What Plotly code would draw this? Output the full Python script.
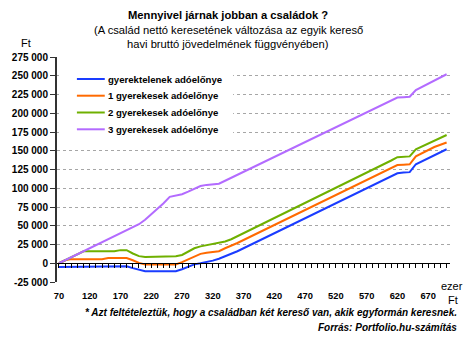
import plotly.graph_objects as go

# Gross monthly income of one earner (thousand Ft)
income = list(range(70, 710, 10))

# Net family income gain (Ft) by number of children
childless = [
    -5000, -5000, -5000, -5000, -5000, -5000, -4000, -4000, -4000, -4000,
    -4000, -4000, -6500, -9000, -10500, -10500, -10500, -10500, -10500, -10500,
    -8000, -4500, -1500, 0, 1500, 3500, 6000, 9000, 12000, 16000,
    20000, 24000, 28000, 32000, 36000, 40000, 44000, 48000, 52000, 56000,
    60000, 64000, 68000, 72000, 76000, 80000, 84000, 88000, 92000, 96000,
    100000, 104000, 108000, 112000, 116000, 120000, 121000, 121500, 132000, 136000,
    140000, 144000, 148000, 152000,
]
one_child = [
    0, 4000, 5500, 5500, 5500, 5500, 5500, 5500, 7000, 7000,
    7000, 7000, 4000, 500, -1500, -1500, -1500, -1500, -1500, -1500,
    1500, 5000, 9500, 12500, 14000, 15000, 16000, 20000, 23000, 27000,
    31000, 35000, 39000, 43000, 47000, 51000, 55000, 59000, 63000, 67000,
    71000, 75000, 79000, 83000, 87000, 91000, 95000, 99000, 103000, 107000,
    111000, 115000, 119000, 123000, 127000, 131000, 131500, 132000, 142500, 147000,
    151000, 155000, 158000, 161000,
]
two_children = [
    0, 4000, 8000, 12000, 16000, 16000, 16000, 16000, 16000, 16000,
    17500, 17500, 13000, 9500, 8500, 8500, 8500, 8500, 9300, 9300,
    11000, 15500, 20000, 22500, 24000, 25000, 26500, 29000, 32000, 36000,
    40000, 44000, 48000, 52000, 56000, 60000, 64500, 68500, 72500, 76500,
    80500, 84500, 88500, 92500, 96500, 100500, 105000, 109000, 113000, 117000,
    121000, 125000, 129000, 133000, 137000, 141500, 142000, 142500, 152000, 156000,
    160000, 164000, 167500, 171000,
]
three_children = [
    0, 4000, 8000, 12000, 16000, 20000, 24000, 28000, 32000, 36000,
    40000, 44000, 48000, 52000, 58000, 65000, 72000, 80000, 88500, 90000,
    92000, 95500, 99000, 103000, 104500, 105000, 106000, 110000, 114000, 118000,
    122000, 126000, 130000, 134000, 138000, 142000, 146000, 150000, 154000, 157500,
    161500, 165500, 169500, 173500, 177500, 181500, 185500, 189500, 193500, 197000,
    201000, 205000, 209000, 213000, 217000, 221000, 221500, 222000, 231000, 235000,
    239500, 243500, 248000, 252000,
]

series_names = [
    "gyerektelenek adóelőnye",
    "1 gyerekesek adóelőnye",
    "2 gyerekesek adóelőnye",
    "3 gyerekesek adóelőnye",
]
series_colors = ["#1a3cff", "#ff6a00", "#6fb000", "#b36bff"]

x_tick_vals = list(range(70, 700, 50))
y_tick_vals = list(range(-25000, 275001, 25000))
y_tick_text = [
    "-25 000", "0", "25 000", "50 000", "75 000", "100 000", "125 000",
    "150 000", "175 000", "200 000", "225 000", "250 000", "275 000",
]

FONT = "Arial, Liberation Sans, sans-serif"
W, H = 467, 342
ML, MR, MT, MB = 55, 17, 57, 60
PW, PH = W - ML - MR, H - MT - MB


def px_x(px):
    """Pixel column -> paper x."""
    return (px - ML) / PW


def px_y(py):
    """Pixel row -> paper y."""
    return 1 - (py - MT) / PH


fig = go.Figure()
for name, color, values in zip(
    series_names, series_colors, [childless, one_child, two_children, three_children]
):
    fig.add_trace(
        go.Scatter(
            x=income, y=values, name=name, mode="lines",
            line=dict(color=color, width=2), showlegend=False,
        )
    )

# invisible trace on the overlay axis that carries the zero-line ticks
fig.add_trace(
    go.Scatter(x=[income[0]], y=[0], xaxis="x2", mode="markers",
               marker=dict(opacity=0), showlegend=False, hoverinfo="skip")
)

x_range = [66.8, 705.5]
y_range = [-25000, 275000]

fig.update_layout(
    width=W, height=H,
    margin=dict(l=ML, r=MR, t=MT, b=MB),
    paper_bgcolor="white", plot_bgcolor="white",
    font=dict(family=FONT, size=10, color="black"),
    showlegend=False,
    xaxis=dict(
        range=x_range, tickvals=x_tick_vals, showgrid=False, zeroline=False,
        showline=False, ticks="", ticklabelstandoff=7,
        tickfont=dict(family=FONT, size=9.3, weight="bold"),
    ),
    xaxis2=dict(
        range=x_range, overlaying="x", anchor="free",
        position=(0 - y_range[0]) / (y_range[1] - y_range[0]),
        showline=True, linecolor="black", linewidth=1,
        ticks="outside", tick0=70, dtick=10, ticklen=4, tickcolor="black",
        tickwidth=1, showticklabels=False, showgrid=False, zeroline=False,
    ),
    yaxis=dict(
        range=y_range, tickvals=y_tick_vals, ticktext=y_tick_text,
        showgrid=True, gridcolor="#a6a6a6", griddash="3px,3px", gridwidth=1,
        zeroline=False, showline=True, linecolor="#333333", linewidth=2,
        ticks="outside", ticklen=5, tickcolor="#333333", tickwidth=1,
        tickfont=dict(family=FONT, size=10, weight="bold"),
    ),
)

# legend box: white panel, line samples and labels
fig.add_shape(
    type="rect", xref="paper", yref="paper", layer="above",
    x0=px_x(57), x1=px_x(232), y0=px_y(142), y1=px_y(64),
    fillcolor="white", line=dict(width=0),
)
legend_rows = [79, 95.7, 112.5, 129.3]
for name, color, row in zip(series_names, series_colors, legend_rows):
    fig.add_shape(
        type="line", xref="paper", yref="paper", layer="above",
        x0=px_x(75), x1=px_x(103), y0=px_y(row), y1=px_y(row),
        line=dict(color=color, width=2),
    )
    fig.add_annotation(
        text=name, xref="paper", yref="paper", x=px_x(104), y=px_y(row),
        xanchor="left", yanchor="middle", showarrow=False,
        font=dict(family=FONT, size=9.6, color="black", weight="bold"),
    )

annotations = [
    dict(text="Mennyivel járnak jobban a családok ?", x=227, y=15,
         font=dict(size=11.2, weight="bold")),
    dict(text="(A család nettó keresetének változása az egyik kereső", x=227, y=30,
         font=dict(size=11.2)),
    dict(text="havi bruttó jövedelmének függvényében)", x=227, y=44,
         font=dict(size=11.2)),
    dict(text="Ft", x=24, y=43, font=dict(size=11)),
    dict(text="ezer", x=452, y=286, font=dict(size=11)),
    dict(text="Ft", x=453, y=300, font=dict(size=11)),
]
for a in annotations:
    fig.add_annotation(
        text=a["text"], xref="paper", yref="paper",
        x=px_x(a["x"]), y=px_y(a["y"]),
        xanchor="center", yanchor="middle", showarrow=False,
        font=dict(family=FONT, color="black", **a["font"]),
    )

footnotes = [
    ("* Azt feltételeztük, hogy a családban két kereső van, akik egyformán keresnek.", 312),
    ("Forrás: Portfolio.hu-számítás", 327),
]
for text, ypix in footnotes:
    fig.add_annotation(
        text=f"<i>{text}</i>", xref="paper", yref="paper",
        x=px_x(459), y=px_y(ypix),
        xanchor="right", yanchor="middle", showarrow=False,
        font=dict(family=FONT, size=10, color="black", weight="bold"),
    )

fig.write_html("out.html")
